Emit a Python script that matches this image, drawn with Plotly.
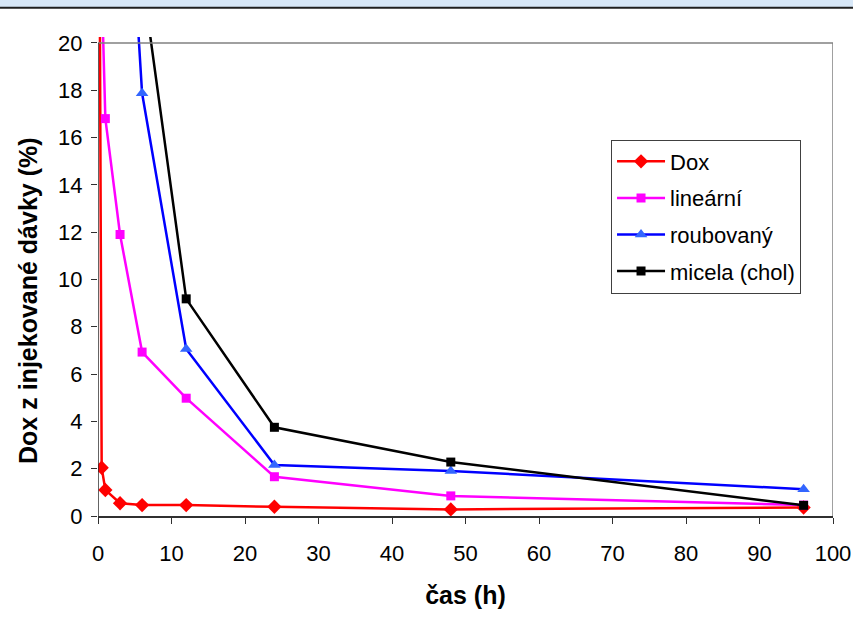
import plotly.graph_objects as go

# Sampling times (h) and percentage of injected dose for each formulation
t_dox = [0.083, 0.5, 1, 3, 6, 12, 24, 48, 96]
dox = [34.6, 2.04, 1.1, 0.54, 0.46, 0.46, 0.39, 0.28, 0.36]

t_lin = [0.5, 1, 3, 6, 12, 24, 48, 96]
linearni = [22.5, 16.8, 11.9, 6.93, 4.98, 1.66, 0.85, 0.46]

t_roub = [3, 6, 12, 24, 48, 96]
roubovany = [33.0, 17.87, 7.06, 2.16, 1.9, 1.13]

t_mic = [6, 12, 24, 48, 96]
micela = [22.8, 9.18, 3.75, 2.28, 0.45]

x_ticks = list(range(0, 101, 10))
y_ticks = list(range(0, 21, 2))

FONT = "Arial, Liberation Sans, sans-serif"

fig = go.Figure()

series = [
    ("Dox", t_dox, dox, "#FF0000", "#FF0000", "diamond", 11),
    ("lineární", t_lin, linearni, "#FF00FF", "#FF00FF", "square", 9),
    ("roubovaný", t_roub, roubovany, "#0000FF", "#3366FF", "triangle-up", 11),
    ("micela (chol)", t_mic, micela, "#000000", "#000000", "square", 9),
]
for name, xs, ys, lc, mc, sym, ms in series:
    fig.add_trace(go.Scatter(
        x=xs, y=ys, name=name, mode="lines+markers", legendgroup=name,
        line=dict(color=lc, width=2.5),
        marker=dict(symbol=sym, size=ms, color=mc, line=dict(width=0)),
    ))

fig.update_layout(
    width=853, height=632,
    margin=dict(l=98, r=20, t=37, b=116, autoexpand=False),
    paper_bgcolor="white", plot_bgcolor="white",
    font=dict(family=FONT, size=22, color="black"),
    showlegend=True,
    legend=dict(
        x=0.698, y=0.786, xanchor="left", yanchor="top",
        bgcolor="white", bordercolor="#404040", borderwidth=1,
        font=dict(family=FONT, size=22, color="black"),
        tracegroupgap=5, itemwidth=48,
    ),
    xaxis=dict(
        range=[0, 100], tickvals=x_ticks, showgrid=False, zeroline=False,
        showline=True, linecolor="#303030", linewidth=1.5,
        ticks="outside", ticklen=6, tickcolor="#303030",
        tickfont=dict(size=22), automargin=False,
        title=dict(text="<b>čas (h)</b>", font=dict(size=25), standoff=21),
        ticklabelstandoff=11,
    ),
    yaxis=dict(
        range=[0, 20.25], tickvals=y_ticks, showgrid=False, zeroline=False,
        showline=False, automargin=False,
        ticks="outside", ticklen=6, tickcolor="#303030",
        tickfont=dict(size=22),
        ticklabelstandoff=4,
    ),
    annotations=[
        # y-axis title, placed as a rotated annotation
        dict(text="<b>Dox z injekované dávky (%)</b>", textangle=-90,
             xref="paper", yref="paper", x=-0.0952, y=0.449,
             xanchor="center", yanchor="middle", showarrow=False,
             font=dict(family=FONT, size=25, color="black")),
    ],
    shapes=[
        # plot frame (top and right in gray)
        dict(type="line", xref="x", yref="y", x0=0, x1=100, y0=20, y1=20,
             line=dict(color="#808080", width=1.5)),
        dict(type="line", xref="x", yref="y", x0=100, x1=100, y0=0, y1=20,
             line=dict(color="#808080", width=1.5)),
        # left axis line
        dict(type="line", xref="x", yref="y", x0=0, x1=0, y0=0, y1=20,
             line=dict(color="#303030", width=1.5)),
        # header band at the top of the page
        dict(type="rect", xref="paper", yref="paper", x0=-0.2, x1=1.1,
             y0=1.062, y1=1.1, fillcolor="#d8e8f8", line=dict(width=0), layer="below"),
        dict(type="line", xref="paper", yref="paper", x0=-0.2, x1=1.1,
             y0=1.061, y1=1.061, line=dict(color="#202020", width=2)),
    ],
)

fig.write_html("out.html")
